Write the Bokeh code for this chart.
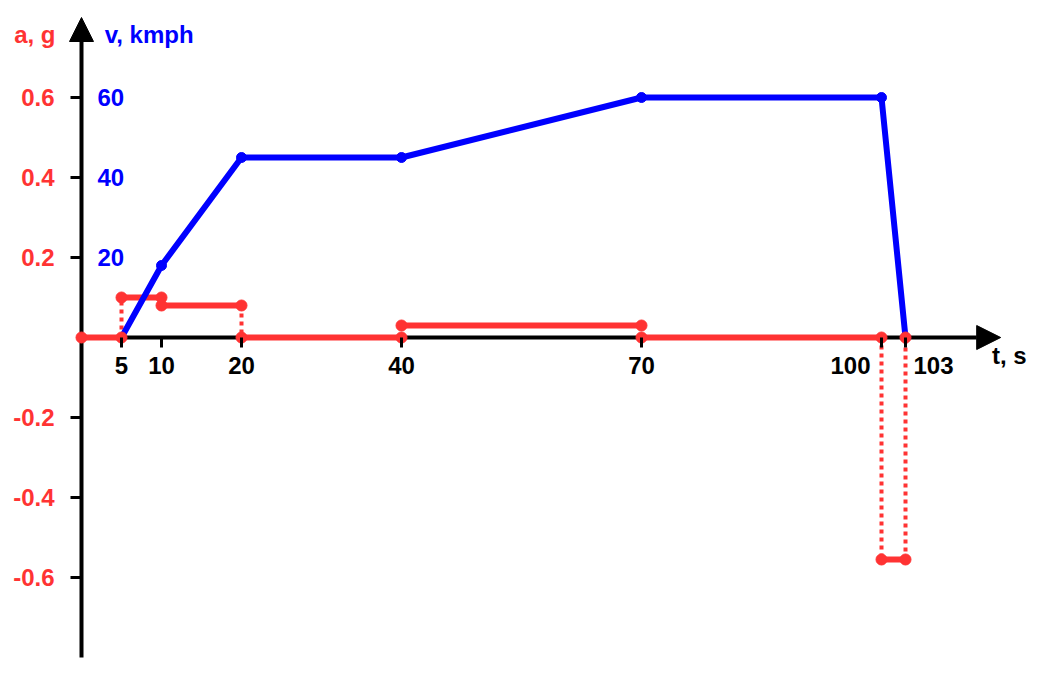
from bokeh.plotting import figure
from bokeh.models import (LinearAxis, FixedTicker, Range1d, Arrow, NormalHead, Label,
                          ColumnDataSource, NumeralTickFormatter)
from bokeh.core.properties import value
from bokeh.embed import file_html
from bokeh.resources import INLINE

# ---------------- data ----------------
# velocity profile
t_vel = [5, 10, 20, 40, 70, 100, 103]
v_kmph = [0, 18, 45, 45, 60, 60, 0]

# acceleration (piecewise constant)
a_t_start = [0, 5, 10, 20, 40, 70, 100]
a_t_end = [5, 10, 20, 40, 70, 100, 103]
a_g = [0, 0.1, 0.08, 0, 0.03, 0, -0.555]

# ticks
t_ticks = [5, 10, 20, 40, 70, 100, 103]
a_ticks = [-0.6, -0.4, -0.2, 0.2, 0.4, 0.6]
v_ticks = [20, 40, 60]

RED = "#FF3333"
BLUE = "#0000FF"
FONT = "Liberation Sans"
FS = "24px"

# ---------------- figure ----------------
p = figure(width=1028, height=658, output_backend="svg", toolbar_location=None,
           x_axis_type=None, y_axis_type=None,
           x_range=Range1d(-10.125, 118.375), y_range=Range1d(-0.8025, 0.8425),
           min_border=0, outline_line_color=None)
p.grid.visible = False
p.extra_y_ranges = {"v": Range1d(-80.25, 84.25)}

# axis lines with arrow heads (underneath the data)
p.add_layout(Arrow(end=NormalHead(size=24, fill_color="black", line_color="black"),
                   x_start=0, y_start=-0.8, x_end=0, y_end=0.8,
                   line_width=4, line_color="black", level="underlay"))
p.add_layout(Arrow(end=NormalHead(size=24, fill_color="black", line_color="black"),
                   x_start=0, y_start=0, x_end=114.9, y_end=0,
                   line_width=4, line_color="black", level="underlay"))

# x axis (ticks + labels)
xax = LinearAxis(fixed_location=0, ticker=FixedTicker(ticks=t_ticks))
xax.axis_line_color = None
xax.major_tick_out = 10
xax.major_tick_in = 0
xax.major_tick_line_width = 3
xax.minor_tick_line_color = None
xax.major_label_standoff = 9
xax.major_label_text_font = FONT
xax.major_label_text_font_size = FS
xax.major_label_text_font_style = "bold"
xax.major_label_text_color = "black"
xax.major_label_overrides = {100: "", 103: ""}
p.add_layout(xax, "below")

# left axis: acceleration labels
yax = LinearAxis(fixed_location=0, ticker=FixedTicker(ticks=a_ticks),
                 formatter=NumeralTickFormatter(format="0.0"))
yax.axis_line_color = None
yax.major_tick_out = 11
yax.major_tick_in = 0
yax.major_tick_line_width = 3
yax.minor_tick_line_color = None
yax.major_label_standoff = 16
yax.major_label_text_font = FONT
yax.major_label_text_font_size = FS
yax.major_label_text_font_style = "bold"
yax.major_label_text_color = RED
p.add_layout(yax, "left")

# right-side labels: velocity
vax = LinearAxis(fixed_location=0, y_range_name="v", ticker=FixedTicker(ticks=v_ticks))
vax.axis_line_color = None
vax.major_tick_out = 0
vax.major_tick_in = 0
vax.minor_tick_line_color = None
vax.major_label_standoff = 16
vax.major_label_text_font = FONT
vax.major_label_text_font_size = FS
vax.major_label_text_font_style = "bold"
vax.major_label_text_color = BLUE
p.add_layout(vax, "right")

# shifted x tick labels (100 left of its tick, 103 right of its tick)
p.text(x=[t_ticks[-2]], y=[0], text=[str(t_ticks[-2])], text_align="right",
       text_baseline="middle", x_offset=-11, y_offset=28,
       text_font=value(FONT), text_font_size=FS, text_font_style="bold", text_color="black")
p.text(x=[t_ticks[-1]], y=[0], text=[str(t_ticks[-1])], text_align="left",
       text_baseline="middle", x_offset=8, y_offset=28,
       text_font=value(FONT), text_font_size=FS, text_font_style="bold", text_color="black")

# ---------------- acceleration ----------------
seg_src = ColumnDataSource(dict(x0=a_t_start, x1=a_t_end, y=a_g))
p.segment(x0="x0", y0="y", x1="x1", y1="y", source=seg_src,
          line_color=RED, line_width=6)

# step connectors (dotted)
cx, cy0, cy1 = [], [], []
for i in range(1, len(a_g)):
    cx.append(a_t_start[i]); cy0.append(a_g[i - 1]); cy1.append(a_g[i])
cx.append(a_t_end[-1]); cy0.append(a_g[-1]); cy1.append(0)
p.segment(x0=cx, y0=cy0, x1=cx, y1=cy1, line_color=RED, line_width=4,
          line_dash="4 4")

# ---------------- velocity ----------------
p.line(t_vel, v_kmph, y_range_name="v", line_color=BLUE, line_width=6,
       line_join="round")
p.scatter(t_vel[1:], v_kmph[1:], y_range_name="v", size=10, color=BLUE)

# acceleration points on top
dx = a_t_start + a_t_end + [a_t_end[-1]]
dy = a_g + a_g + [0]
p.scatter(dx, dy, size=11, color=RED)

# ---------------- axis titles ----------------
p.add_layout(Label(x=-3.25, y=0.7575, text="a, g", text_align="right", text_baseline="middle",
                   text_font=FONT, text_font_size=FS, text_font_style="bold", text_color=RED))
p.add_layout(Label(x=2.9, y=0.7575, text="v, kmph", text_align="left", text_baseline="middle",
                   text_font=FONT, text_font_size=FS, text_font_style="bold", text_color=BLUE))
p.add_layout(Label(x=113.8, y=-0.045, text="t, s", text_align="left", text_baseline="middle",
                   text_font=FONT, text_font_size=FS, text_font_style="bold", text_color="black"))

open("out.html", "w").write(file_html(p, INLINE))
